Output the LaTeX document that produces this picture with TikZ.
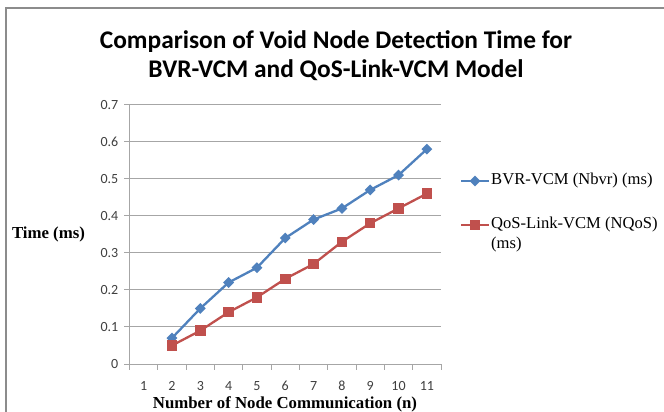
\documentclass[tikz,border=0pt]{standalone}
\usepackage{fontspec}
\setmainfont{Liberation Serif}
\newfontfamily\calfont{Carlito}
\usetikzlibrary{shapes.geometric}
\definecolor{bvr}{HTML}{4F81BD}
\definecolor{qos}{HTML}{C0504D}
\definecolor{gridc}{HTML}{A6A6A6}
\definecolor{lbl}{HTML}{404040}
\definecolor{frame}{HTML}{8C8C8C}
\tikzset{
  gridline/.style={draw=gridc, line width=1pt},
  ticklbl/.style={font=\calfont\fontsize{14}{15}\selectfont, text=lbl, inner sep=0pt},
  axtitle/.style={font=\bfseries\fontsize{16.8}{18}\selectfont, inner sep=0pt},
  legtext/.style={font=\fontsize{16.6}{20}\selectfont, inner sep=0pt, anchor=west},
  ttl/.style={font=\calfont\bfseries\fontsize{25.4}{28}\selectfont, inner sep=0pt},
  bline/.style={draw=bvr, line width=2.3pt, line join=round, line cap=round},
  qline/.style={draw=qos, line width=2.3pt, line join=round, line cap=round},
  bmark/.style={diamond, fill=bvr, inner sep=0pt, minimum size=11pt},
  qmark/.style={rectangle, fill=qos, inner sep=0pt, minimum size=10.5pt},
}
\begin{document}
\begin{tikzpicture}[x=1pt,y=-1pt]
\useasboundingbox (0,0) rectangle (664,412);
\fill[white] (0,0) rectangle (664,412);
% chart frame (cropped)
\draw[frame, line width=1.3pt] (6,412) -- (6,8) -- (664,8);
% title
\node[ttl] (t1) at (336,42) {Comparison of Void Node Detection Time for};
\node[ttl] (t2) at (336,70) {BVR-VCM and QoS-Link-VCM Model};
% grid and y labels
\foreach \v/\t in {0/0,1/0.1,2/0.2,3/0.3,4/0.4,5/0.5,6/0.6,7/0.7}{
  \pgfmathsetmacro\yy{364-\v*37.04}
  \draw[gridline] (124,\yy) -- (441,\yy);
  \node[ticklbl, anchor=east] (y\v) at (118.5,\yy) {\t};
}
% y axis
\draw[gridline] (129.5,104.7) -- (129.5,364);
% x ticks and labels
\foreach \i in {0,...,11}{
  \draw[gridline] ({129.5+\i*28.32},364) -- ({129.5+\i*28.32},369.5);
}
\foreach \i in {1,...,11}{
  \node[ticklbl] (x\i) at ({129.5+(\i-0.5)*28.32},386) {\i};
}
% axis titles
\node[axtitle] (ytitle) at (48.5,234) {Time (ms)};
\node[axtitle] (xtitle) at (285,404.5) {Number of Node Communication (n)};
% data coordinates
\foreach \i/\b/\q in {2/0.07/0.05,3/0.15/0.09,4/0.22/0.14,5/0.26/0.18,6/0.34/0.23,7/0.39/0.27,8/0.42/0.33,9/0.47/0.38,10/0.51/0.42,11/0.58/0.46}{
  \coordinate (b\i) at ({129.5+(\i-0.5)*28.32},{364-\b*370.4});
  \coordinate (q\i) at ({129.5+(\i-0.5)*28.32},{364-\q*370.4});
}
\draw[bline] (b2)--(b3)--(b4)--(b5)--(b6)--(b7)--(b8)--(b9)--(b10)--(b11);
\draw[qline] (q2)--(q3)--(q4)--(q5)--(q6)--(q7)--(q8)--(q9)--(q10)--(q11);
\foreach \i in {2,...,11}{
  \node[bmark] (bm\i) at (b\i) {};
  \node[qmark] (qm\i) at (q\i) {};
}
% legend
\coordinate (l1a) at (461,181);
\coordinate (l1b) at (489,181);
\draw[bline, line cap=butt] (l1a) -- (l1b);
\node[bmark] (lm1) at (475,181) {};
\node[legtext] (lt1) at (491,181) {BVR-VCM (Nbvr) (ms)};
\coordinate (l2a) at (461,225);
\coordinate (l2b) at (489,225);
\draw[qline, line cap=butt] (l2a) -- (l2b);
\node[qmark] (lm2) at (475,225) {};
\node[legtext] (lt2) at (491,225) {QoS-Link-VCM (NQoS)};
\node[legtext] (lt3) at (491,245) {(ms)};
\end{tikzpicture}
\end{document}
